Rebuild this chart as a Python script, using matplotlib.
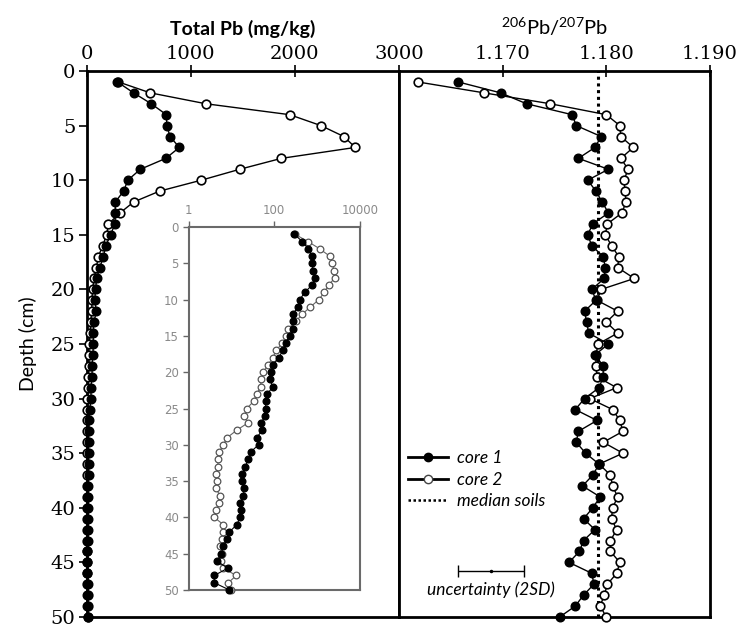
import matplotlib
matplotlib.use("Agg")
import matplotlib.pyplot as plt
from matplotlib.lines import Line2D
from matplotlib.ticker import FixedLocator, NullLocator, FixedFormatter
import numpy as np

plt.rcParams['font.family'] = ['Lato', 'DejaVu Sans']
plt.rcParams['mathtext.default'] = 'regular'

# ---------------- data ----------------
depth = list(range(1, 51))

core1_pb = [295, 450, 620, 765, 770, 800, 890, 760, 515, 395,
            355, 274, 275, 272, 229, 184, 160, 126, 96, 85,
            78, 93, 69, 63, 63, 60, 50, 53, 39, 43,
            28, 25, 21, 18, 17.5, 20, 19, 16, 17, 16,
            13.4, 9, 7.8, 6.5, 5.8, 4.6, 8.2, 4.0, 4.0, 9]

core2_pb = [304, 610, 1145, 1950, 2250, 2470, 2580, 1870, 1470, 1100,
            700, 450, 320, 209, 191, 154, 111, 93, 71, 56,
            50, 48, 39, 33, 23, 20, 24, 13.3, 8, 6.5,
            5.2, 5.0, 4.8, 4.4, 4.6, 4.4, 5.4, 5.2, 4.3, 4.0,
            6.5, 6.5, 6.2, 5.3, 6.0, 5.8, 6.5, 13, 8.5, 9.9]

core1_ratio = [1.1657, 1.1698, 1.1723, 1.1767, 1.1771, 1.1795, 1.1789, 1.1773, 1.1802, 1.1782,
               1.1790, 1.1796, 1.1802, 1.1787, 1.1782, 1.1786, 1.1797, 1.1799, 1.1798, 1.1786,
               1.1790, 1.1779, 1.1781, 1.1783, 1.1802, 1.1789, 1.1797, 1.1797, 1.1793, 1.1779,
               1.1770, 1.1791, 1.1773, 1.1771, 1.1780, 1.1793, 1.1787, 1.1777, 1.1794, 1.1787,
               1.1778, 1.1789, 1.1778, 1.1774, 1.1764, 1.1786, 1.1788, 1.1778, 1.1770, 1.1755]

core2_ratio = [1.1618, 1.1682, 1.1746, 1.1800, 1.1813, 1.1814, 1.1826, 1.1814, 1.1821, 1.1817,
               1.1818, 1.1819, 1.1815, 1.1801, 1.1799, 1.1805, 1.1812, 1.1811, 1.1827, 1.1795,
               1.1791, 1.1811, 1.1800, 1.1811, 1.1792, 1.1790, 1.1790, 1.1791, 1.1810, 1.1784,
               1.1806, 1.1813, 1.1816, 1.1797, 1.1816, 1.1793, 1.1804, 1.1806, 1.1811, 1.1806,
               1.1805, 1.1810, 1.1804, 1.1804, 1.1813, 1.1810, 1.1801, 1.1798, 1.1794, 1.1800]

median_soils = 1.1792
uncert_center = 1.1689
uncert_depth = 45.8
uncert_2sd = 0.0032

pb_ticks = [0, 1000, 2000, 3000]
ratio_ticks = [1.170, 1.180, 1.190]
ratio_ticklabels = ['1.170', '1.180', '1.190']
depth_ticks = list(range(0, 51, 5))
inset_xticks = [1, 100, 10000]
inset_xticklabels = ['1', '100', '10000']

# ---------------- figure ----------------
fig = plt.figure(figsize=(7.37, 6.30), dpi=100)
W, H = 737, 630

def pos(x0, y0, x1, y1):
    return [x0 / W, 1 - y1 / H, (x1 - x0) / W, (y1 - y0) / H]

axL = fig.add_axes(pos(86.7, 71, 399, 617))
axR = fig.add_axes(pos(399, 71, 710, 617))
axI = fig.add_axes(pos(188.5, 227, 360, 590))

tickfont = dict(family=['DejaVu Serif'], size=14)
ms = 6.2

# left panel
axL.plot(core2_pb, depth, '-o', color='black', mfc='white', mec='black',
         ms=ms, lw=1.0, mew=1.2, clip_on=False, zorder=3)
axL.plot(core1_pb, depth, '-o', color='black', mfc='black', mec='black',
         ms=ms, lw=1.0, clip_on=False, zorder=4)
axL.set_xlim(0, 3000)
axL.set_ylim(50, 0)
axL.xaxis.tick_top()
axL.xaxis.set_label_position('top')
axL.set_xticks(pb_ticks)
axL.set_yticks(depth_ticks)
for lab in axL.get_xticklabels() + axL.get_yticklabels():
    lab.set_fontfamily(tickfont['family'])
    lab.set_fontsize(tickfont['size'])
axL.tick_params(axis='x', direction='inout', length=8, width=1.2, pad=2)
axL.tick_params(axis='y', direction='out', length=6, width=1.2, pad=2)
axL.set_xlabel('Total Pb (mg/kg)', fontsize=14, fontweight='bold', labelpad=7)
axL.set_ylabel('Depth (cm)', fontsize=14, labelpad=10)
for s in axL.spines.values():
    s.set_linewidth(2.0)

# right panel
axR.axvline(median_soils, color='black', ls=(0, (1, 1.2)), lw=2.2, zorder=2)
axR.plot(core2_ratio, depth, '-o', color='black', mfc='white', mec='black',
         ms=ms, lw=1.0, mew=1.2, clip_on=False, zorder=3)
axR.plot(core1_ratio, depth, '-o', color='black', mfc='black', mec='black',
         ms=ms, lw=1.0, clip_on=False, zorder=4)
axR.set_xlim(1.160, 1.190)
axR.set_ylim(50, 0)
axR.xaxis.tick_top()
axR.xaxis.set_label_position('top')
axR.set_xticks(ratio_ticks)
axR.set_xticklabels(ratio_ticklabels)
for lab in axR.get_xticklabels():
    lab.set_fontfamily(tickfont['family'])
    lab.set_fontsize(tickfont['size'])
axR.set_yticks([])
axR.tick_params(axis='x', direction='inout', length=8, width=1.2, pad=2)
axR.set_xlabel(r'$^{206}$Pb/$^{207}$Pb', fontsize=14.5, labelpad=7)
for s in axR.spines.values():
    s.set_linewidth(2.0)

# legend
handles = [
    Line2D([], [], color='black', marker='o', mfc='black', mec='black', ms=6, lw=2),
    Line2D([], [], color='black', marker='o', mfc='white', mec='#444444', ms=6, lw=2),
    Line2D([], [], color='black', ls=(0, (1, 1)), lw=1.8),
]
leg = axR.legend(handles, ['core 1', 'core 2', 'median soils'],
                 loc='upper left', bbox_to_anchor=(0.03, 0.305), frameon=False,
                 prop=dict(family=['Lato', 'DejaVu Sans'], style='italic', size=12.5),
                 handlelength=2.3, handletextpad=0.5, labelspacing=0.3,
                 borderpad=0, borderaxespad=0)

# uncertainty bar
axR.errorbar([uncert_center], [uncert_depth], xerr=[uncert_2sd], fmt='.',
             color='black', ms=3, capsize=4, lw=1.0, capthick=1.0)
axR.text(uncert_center, uncert_depth + 1.7, 'uncertainty (2SD)', ha='center', va='center',
         fontsize=12.5, style='italic')

# inset
axI.plot(core2_pb, depth, '-o', color='#666666', mfc='white', mec='#555555',
         ms=4.8, lw=0.8, mew=0.9, clip_on=False, zorder=3)
axI.plot(core1_pb, depth, '-o', color='black', mfc='black', mec='black',
         ms=4.8, lw=0.8, clip_on=False, zorder=4)
axI.set_xscale('log')
axI.set_xlim(1, 10000)
axI.set_ylim(50, 0)
axI.xaxis.tick_top()
axI.xaxis.set_major_locator(FixedLocator(inset_xticks))
axI.xaxis.set_major_formatter(FixedFormatter(inset_xticklabels))
axI.xaxis.set_minor_locator(NullLocator())
axI.set_yticks(depth_ticks)
axI.tick_params(axis='both', colors='#666666', labelcolor='#8a8a8a',
                labelsize=8.5, length=4, width=1.0, direction='out', pad=3)
for lab in axI.get_xticklabels() + axI.get_yticklabels():
    lab.set_fontfamily(['DejaVu Sans'])
for s in axI.spines.values():
    s.set_linewidth(1.5)
    s.set_color('#6a6a6a')

fig.savefig('out.png', dpi=100)
